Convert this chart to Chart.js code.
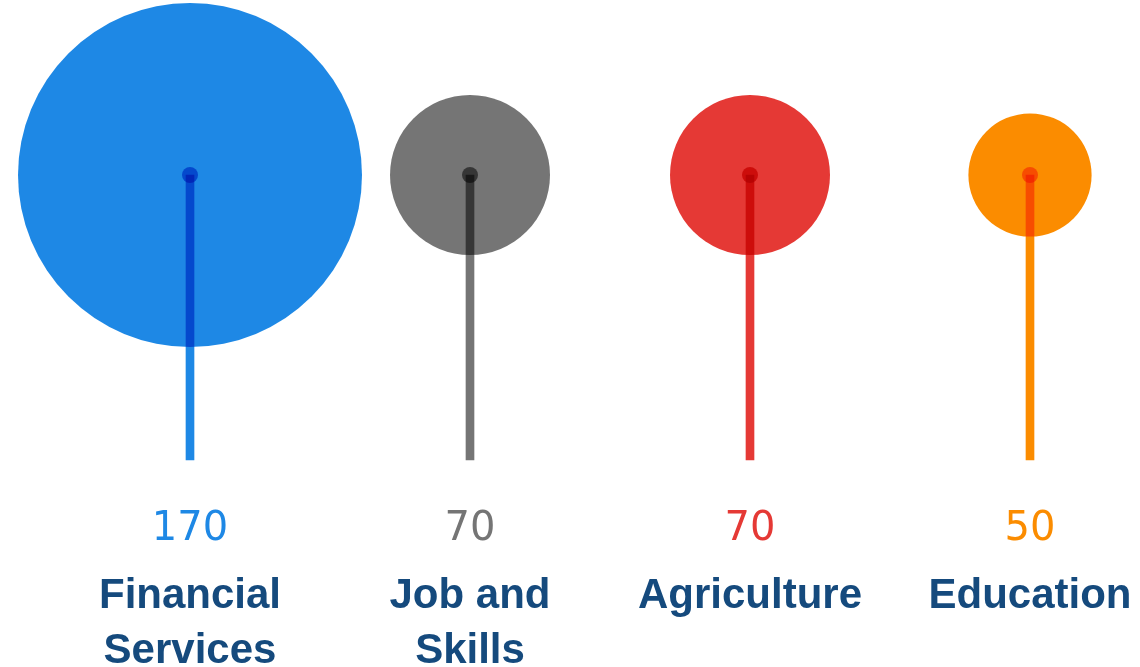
<!DOCTYPE html>
<html>
<head>
<meta charset="utf-8">
<script src="https://cdn.jsdelivr.net/npm/chart.js@4.4.1/dist/chart.umd.min.js"></script>
<style>
  body { margin: 0; background: #ffffff; }
  #wrap { width: 1140px; height: 667px; }
</style>
</head>
<body>
<div id="wrap"><canvas id="lollipop" width="1140" height="667"></canvas></div>
<script>
// chart data
const categories = [['Financial', 'Services'], ['Job and', 'Skills'], ['Agriculture'], ['Education']];
const values = [170, 70, 70, 50];
const colors = ['#1e88e5', '#757575', '#e53935', '#fb8c00'];

const valueLabels = values.map(v => String(v));

// bubble radius grows with the value
const radiusFor = v => 15.6 + 0.92 * v;

// stems + dots are blended with multiply so they darken over the circles
const multiplyPlugin = {
  id: 'multiply',
  beforeDatasetDraw(chart, args) {
    if (chart.data.datasets[args.index].multiply) {
      chart.ctx.save();
      chart.ctx.globalCompositeOperation = 'multiply';
    }
  },
  afterDatasetDraw(chart, args) {
    if (chart.data.datasets[args.index].multiply) {
      chart.ctx.restore();
    }
  }
};

const ctx = document.getElementById('lollipop').getContext('2d');

new Chart(ctx, {
  data: {
    datasets: [
      {
        // small centre dots
        type: 'bubble',
        multiply: true,
        clip: false,
        data: values.map((v, i) => ({ x: i, y: 1, r: 8 })),
        backgroundColor: colors,
        borderWidth: 0
      },
      {
        // stems
        type: 'bar',
        multiply: true,
        clip: false,
        data: values.map(() => [0, 1]),
        backgroundColor: colors,
        borderWidth: 0,
        barThickness: 8
      },
      {
        // big circles
        type: 'bubble',
        clip: false,
        data: values.map((v, i) => ({ x: i, y: 1, r: radiusFor(v) })),
        backgroundColor: colors,
        borderWidth: 0
      }
    ]
  },
  options: {
    responsive: false,
    animation: false,
    layout: {
      autoPadding: false,
      padding: { top: 175, left: 190, right: 110, bottom: -11.5 }
    },
    plugins: { legend: { display: false }, tooltip: { enabled: false } },
    scales: {
      x: {
        type: 'category',
        labels: valueLabels,
        offset: false,
        position: 'bottom',
        weight: 1,
        grid: { display: false, drawTicks: false },
        border: { display: false },
        ticks: {
          padding: 13.5,
          maxRotation: 0,
          autoSkip: false,
          color: c => colors[c.index],
          font: { family: 'DejaVu Sans', size: 40, lineHeight: '50px' }
        }
      },
      x2: {
        type: 'category',
        labels: categories,
        offset: false,
        position: 'bottom',
        weight: 2,
        grid: { display: false, drawTicks: false },
        border: { display: false },
        ticks: {
          padding: 0,
          maxRotation: 0,
          autoSkip: false,
          color: '#154a7d',
          font: { family: 'Liberation Sans', size: 42, weight: 'bold', lineHeight: '55px' }
        }
      },
      y: {
        display: false,
        min: -0.1105,
        max: 1
      }
    }
  },
  plugins: [multiplyPlugin]
});
</script>
</body>
</html>
